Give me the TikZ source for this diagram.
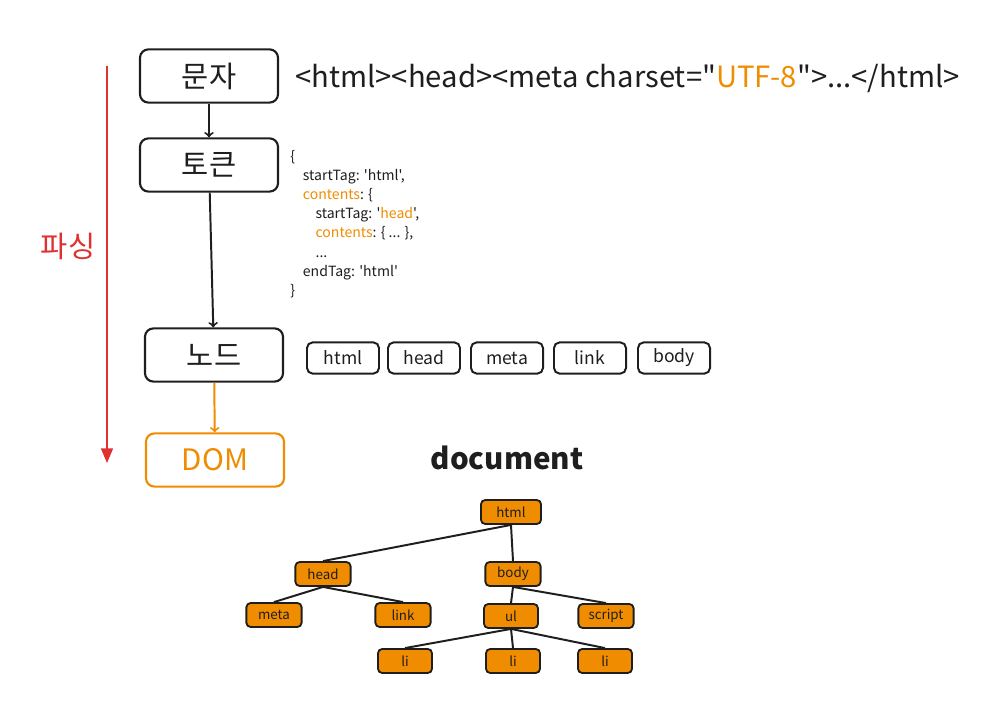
\documentclass[tikz,border=0pt]{standalone}
\usepackage{fontspec}
\setmainfont{Noto Sans CJK KR}[Ligatures=TeXOff]
\usetikzlibrary{arrows}
\definecolor{inkBlack}{HTML}{1E1E1E}
\definecolor{domOrange}{HTML}{F08C00}
\definecolor{parseRed}{HTML}{E03131}
\tikzstyle{stepBox} = [shape=rectangle, draw=inkBlack, text=inkBlack, line width=1.5pt,
	align=center, fill=white, rounded corners=6pt, minimum width=3.45cm,
	minimum height=1.33cm, font=\fontsize{21}{25}\selectfont]
\tikzstyle{domBox} = [stepBox, draw=domOrange, text=domOrange]
\tikzstyle{tagBox} = [shape=rectangle, draw=inkBlack, text=inkBlack, line width=1.4pt,
	align=center, fill=white, rounded corners=4pt, minimum width=1.8cm,
	minimum height=0.78cm, font=\fontsize{12.5}{14}\selectfont]
\tikzstyle{treeBox} = [shape=rectangle, draw=inkBlack, text=inkBlack, line width=1.3pt,
	align=center, fill=domOrange, rounded corners=3pt, minimum width=1.38cm,
	minimum height=0.6cm, inner sep=1pt, font=\fontsize{9.5}{11}\selectfont]
\tikzstyle{treeEdge} = [line width=1.4pt, draw=inkBlack]
\tikzstyle{stepArrow} = [line width=1.4pt, -to]

\begin{document}
\begin{tikzpicture}[x=0.025cm, y=-0.025cm]
  \useasboundingbox (0,0) rectangle (1006,720);
  % parsing steps
  \node[stepBox] (chars) at (209,76) {문자};
  \node[stepBox] (token) at (209,165) {토큰};
  \node[stepBox] (nodes) at (214,355) {노드};
  \node[domBox] (dom) at (215,460) {DOM};
  \draw[stepArrow, inkBlack] (chars) -- (token);
  \draw[stepArrow, inkBlack] (token) -- (nodes);
  \draw[stepArrow, domOrange] (nodes) -- (dom);
  % parsing arrow
  \coordinate (parseTop) at (107,66);
  \coordinate (parseEnd) at (107,463);
  \draw[line width=1.4pt, parseRed, -triangle 45] (parseTop) -- (parseEnd);
  \node[text=parseRed, font=\fontsize{21}{24}\selectfont] (parseLabel) at (68,246) {파싱};
  % source text
  \node[anchor=west, text=inkBlack, inner sep=0pt, font=\fontsize{20.8}{24}\selectfont]
    (source) at (295,78)
    {<html><head><meta charset="\textcolor{domOrange}{UTF-8}">...</html>};
  % tokens
  \node[anchor=north west, align=left, text=inkBlack, inner sep=0pt,
    font=\fontsize{10}{13.6}\selectfont] (tokenText) at (290,150)
    {\{\\
     \hspace*{0.9em}startTag: 'html',\\
     \hspace*{0.9em}\textcolor{domOrange}{contents}: \{\\
     \hspace*{1.8em}startTag: '\textcolor{domOrange}{head}',\\
     \hspace*{1.8em}\textcolor{domOrange}{contents}: \{ ... \},\\
     \hspace*{1.8em}...\\
     \hspace*{0.9em}endTag: 'html'\\
     \}};
  % node row
  \node[tagBox] (nHtml) at (343,358) {html};
  \node[tagBox] (nHead) at (424,358) {head};
  \node[tagBox] (nMeta) at (507,358) {meta};
  \node[tagBox] (nLink) at (590,358) {link};
  \node[tagBox] (nBody) at (674,358) {body};
  % dom tree
  \node[text=inkBlack, font=\fontsize{21}{25}\selectfont\bfseries] (docLabel) at (507,458) {document};
  \node[treeBox, minimum width=1.5cm] (tHtml) at (511,512) {html};
  \node[treeBox] (tHead) at (323,574) {head};
  \node[treeBox] (tBody) at (513,574) {body};
  \node[treeBox] (tMeta) at (274,615) {meta};
  \node[treeBox] (tLink) at (403,615) {link};
  \node[treeBox, minimum width=1.35cm] (tUl) at (511,616) {ul};
  \node[treeBox] (tScript) at (606,616) {script};
  \node[treeBox, minimum width=1.35cm] (tLiA) at (405,661) {li};
  \node[treeBox, minimum width=1.35cm] (tLiB) at (513,661) {li};
  \node[treeBox, minimum width=1.35cm] (tLiC) at (605,661) {li};
  \draw[treeEdge] (tHtml.south) -- (tHead.north);
  \draw[treeEdge] (tHtml.south) -- (tBody.north);
  \draw[treeEdge] (tHead.south) -- (tMeta.north);
  \draw[treeEdge] (tHead.south) -- (tLink.north);
  \draw[treeEdge] (tBody.south) -- (tUl.north);
  \draw[treeEdge] (tBody.south) -- (tScript.north);
  \draw[treeEdge] (tUl.south) -- (tLiA.north);
  \draw[treeEdge] (tUl.south) -- (tLiB.north);
  \draw[treeEdge] (tUl.south) -- (tLiC.north);
\end{tikzpicture}
\end{document}
